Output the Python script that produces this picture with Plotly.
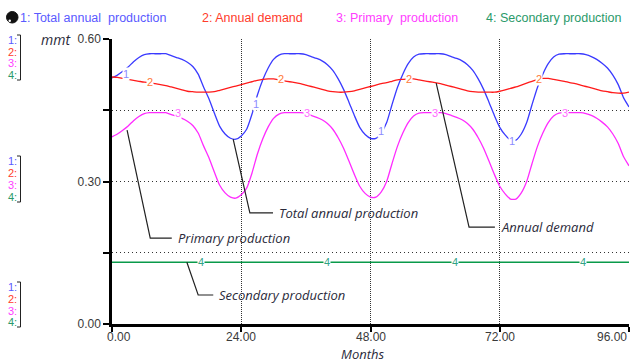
import plotly.graph_objects as go

# ---------------- data ----------------
months = list(range(97))

total_production = [
    0.518, 0.524, 0.532, 0.541, 0.552, 0.561, 0.567, 0.569, 0.569, 0.569,
    0.569, 0.565, 0.561, 0.557, 0.551, 0.542, 0.526, 0.499, 0.474, 0.444,
    0.416, 0.400, 0.391, 0.389, 0.396, 0.410, 0.442, 0.482, 0.514, 0.539,
    0.557, 0.566, 0.569, 0.569, 0.569, 0.569, 0.567, 0.563, 0.559, 0.554,
    0.546, 0.534, 0.516, 0.494, 0.467, 0.439, 0.414, 0.399, 0.391, 0.391,
    0.402, 0.424, 0.462, 0.498, 0.526, 0.548, 0.562, 0.568, 0.569, 0.569,
    0.569, 0.569, 0.567, 0.563, 0.559, 0.554, 0.546, 0.534, 0.516, 0.494,
    0.467, 0.439, 0.414, 0.398, 0.387, 0.387, 0.400, 0.424, 0.462, 0.498,
    0.526, 0.548, 0.562, 0.568, 0.569, 0.569, 0.569, 0.569, 0.567, 0.563,
    0.557, 0.549, 0.539, 0.524, 0.504, 0.476, 0.457,
]

annual_demand = [
    0.520, 0.519, 0.517, 0.515, 0.513, 0.511, 0.509, 0.508, 0.506, 0.504,
    0.502, 0.499, 0.496, 0.493, 0.490, 0.489, 0.488, 0.488, 0.488, 0.489,
    0.492, 0.495, 0.498, 0.501, 0.504, 0.507, 0.510, 0.513, 0.515, 0.516,
    0.516, 0.514, 0.512, 0.510, 0.508, 0.506, 0.503, 0.500, 0.497, 0.494,
    0.491, 0.489, 0.488, 0.488, 0.489, 0.491, 0.494, 0.497, 0.500, 0.503,
    0.506, 0.508, 0.511, 0.514, 0.515, 0.516, 0.516, 0.514, 0.512, 0.510,
    0.508, 0.506, 0.503, 0.500, 0.497, 0.494, 0.491, 0.489, 0.488, 0.488,
    0.488, 0.488, 0.490, 0.493, 0.496, 0.499, 0.503, 0.507, 0.511, 0.515,
    0.517, 0.517, 0.515, 0.513, 0.511, 0.508, 0.506, 0.503, 0.500, 0.497,
    0.494, 0.491, 0.489, 0.487, 0.486, 0.486, 0.488,
]

primary_production = [
    0.394, 0.400, 0.408, 0.417, 0.428, 0.437, 0.443, 0.445, 0.445, 0.445,
    0.445, 0.441, 0.437, 0.433, 0.427, 0.418, 0.402, 0.375, 0.350, 0.320,
    0.292, 0.276, 0.267, 0.265, 0.272, 0.286, 0.318, 0.358, 0.390, 0.415,
    0.433, 0.442, 0.445, 0.445, 0.445, 0.445, 0.443, 0.439, 0.435, 0.430,
    0.422, 0.410, 0.392, 0.370, 0.343, 0.315, 0.290, 0.275, 0.267, 0.267,
    0.278, 0.300, 0.338, 0.374, 0.402, 0.424, 0.438, 0.444, 0.445, 0.445,
    0.445, 0.445, 0.443, 0.439, 0.435, 0.430, 0.422, 0.410, 0.392, 0.370,
    0.343, 0.315, 0.290, 0.274, 0.263, 0.263, 0.276, 0.300, 0.338, 0.374,
    0.402, 0.424, 0.438, 0.444, 0.445, 0.445, 0.445, 0.445, 0.443, 0.439,
    0.433, 0.425, 0.415, 0.400, 0.380, 0.352, 0.333,
]

secondary_production = [0.13] * len(months)

x_ticks = [0, 24, 48, 72, 96]
x_tick_text = ["0.00", "24.00", "48.00", "72.00", "96.00"]
y_ticks = [0.0, 0.15, 0.30, 0.45, 0.60]
y_tick_text = ["0.00", "", "0.30", "", "0.60"]

legend_texts = ["1: Total annual\u00a0 production", "2: Annual demand",
                "3: Primary\u00a0 production", "4: Secondary production"]

# curve-number label positions (month, value)
label_1 = [(2.6, 0.526), (26.7, 0.463), (50.0, 0.406), (74.3, 0.385)]
label_2 = [(7.1, 0.509), (31.4, 0.516), (55.2, 0.516), (79.3, 0.516)]
label_3 = [(12.3, 0.444), (36.2, 0.444), (60.0, 0.444), (84.1, 0.444)]
label_4 = [(16.5, 0.130), (39.9, 0.130), (63.7, 0.130), (87.5, 0.130)]

# callouts: (text, start point on curve, bend point, end of leader)
callouts = [
    ("Total annual production", (22.5, 0.389), (25.6, 0.234), (29.9, 0.234)),
    ("Primary production", (2.8, 0.408), (7.1, 0.181), (11.1, 0.181)),
    ("Secondary production", (13.9, 0.130), (16.0, 0.061), (18.8, 0.061)),
    ("Annual demand", (60.2, 0.507), (66.3, 0.204), (71.1, 0.204)),
]

# ---------------- styling ----------------
W, H = 634, 363
ML, MR, MT, MB = 112, 5, 39, 39
PW, PH = W - ML - MR, H - MT - MB

def px(x):
    return (x - ML) / PW

def py(y):
    return (H - MB - y) / PH

c_blue, c_red, c_mag, c_green = "#3a3aff", "#ff1a1a", "#ff2bff", "#0a9a4a"
t_blue, t_red, t_mag, t_green = "#5a5aff", "#ff3b2b", "#ff40ff", "#2a9a6a"
l_blue, l_red, l_mag, l_green = "#8c8cff", "#ff7a3a", "#ff6aff", "#33a386"

fig = go.Figure()
for ys, col in [(total_production, c_blue), (annual_demand, c_red),
                (primary_production, c_mag), (secondary_production, c_green)]:
    fig.add_trace(go.Scatter(x=months, y=ys, mode="lines",
                             line=dict(color=col, width=1.3, shape="spline", smoothing=0.6),
                             hoverinfo="skip", showlegend=False))

annotations = []
shapes = []

# curve number labels
for labels, num, col in [(label_1, "1", l_blue), (label_2, "2", l_red),
                         (label_3, "3", l_mag), (label_4, "4", l_green)]:
    for (mx, vy) in labels:
        annotations.append(dict(x=mx, y=vy, xref="x", yref="y", text=num,
                                showarrow=False, bgcolor="white", borderpad=0,
                                font=dict(family="Liberation Sans", size=11, color=col)))

# callouts
for text, p0, p1, p2 in callouts:
    shapes.append(dict(type="path", xref="x", yref="y",
                       path=f"M {p0[0]},{p0[1]} L {p1[0]},{p1[1]} L {p2[0]},{p2[1]}",
                       line=dict(color="#222222", width=1.2)))
    annotations.append(dict(x=p2[0] + 0.7, y=p2[1], xref="x", yref="y", text=f"<i>{text}</i>",
                            showarrow=False, xanchor="left", yanchor="middle",
                            font=dict(family="Open Sans", size=13, color="#2a2a3a")))

# top legend texts
leg_x = [18, 200, 334, 484]
for txt, lx, col in zip(legend_texts, leg_x, [t_blue, t_red, t_mag, t_green]):
    annotations.append(dict(x=px(lx), y=py(18), xref="paper", yref="paper", text=txt,
                            showarrow=False, xanchor="left", yanchor="middle",
                            font=dict(family="Liberation Sans", size=12.5, color=col)))

# left scale indicators
groups = [[40, 52, 63, 75], [161, 173, 185, 197], [287, 299, 311, 322]]
for g in groups:
    for yy, num, col in zip(g, ["1:", "2:", "3:", "4:"], [t_blue, t_red, t_mag, t_green]):
        annotations.append(dict(x=px(19), y=py(yy), xref="paper", yref="paper", text=num,
                                showarrow=False, xanchor="right", yanchor="middle",
                                font=dict(family="Liberation Sans", size=11, color=col)))
    top, bot = g[0] - 5, g[-1] + 5
    shapes.append(dict(type="path", xref="paper", yref="paper",
                       path=f"M {px(17)},{py(top)} L {px(20.5)},{py(top)} L {px(20.5)},{py(bot)} L {px(17)},{py(bot)}",
                       line=dict(color="#222222", width=1)))

# x tick labels (end labels are pulled inward like the reference)
tick_font = dict(family="Liberation Sans", size=12, color="#3a3a3a")
tick_px = [119, 241, 371, 500, 612]
for txt, tx in zip(x_tick_text, tick_px):
    annotations.append(dict(x=px(tx), y=py(337), xref="paper", yref="paper", text=txt,
                            showarrow=False, xanchor="center", yanchor="middle", font=tick_font))

# units label
annotations.append(dict(x=px(56), y=py(39), xref="paper", yref="paper", text="<i>mmt</i>",
                        showarrow=False, xanchor="center", yanchor="middle",
                        font=dict(family="Open Sans", size=14, color="#2a2a3a")))
# x axis title
annotations.append(dict(x=px(362), y=py(354), xref="paper", yref="paper", text="<i>Months</i>",
                        showarrow=False, xanchor="center", yanchor="middle",
                        font=dict(family="Open Sans", size=13, color="#2a2a3a")))

# top-left icon
shapes.append(dict(type="circle", xref="paper", yref="paper",
                   x0=px(6.5), x1=px(18), y0=py(23), y1=py(11.5),
                   fillcolor="#111111", line=dict(color="#111111", width=1)))
shapes.append(dict(type="circle", xref="paper", yref="paper",
                   x0=px(8.5), x1=px(11), y0=py(22), y1=py(19.5),
                   fillcolor="white", line=dict(width=0)))

fig.update_layout(
    width=W, height=H,
    margin=dict(l=ML, r=MR, t=MT, b=MB),
    paper_bgcolor="white", plot_bgcolor="white",
    annotations=annotations, shapes=shapes,
    xaxis=dict(range=[0, 96], tickvals=x_ticks, showticklabels=False,
               showline=True, linecolor="black", linewidth=2.5,
               ticks="outside", ticklen=5, tickwidth=2, tickcolor="black",
               showgrid=True, gridcolor="#333333", gridwidth=1, griddash="1px,1px",
               zeroline=False),
    yaxis=dict(range=[0, 0.6], tickvals=y_ticks, ticktext=y_tick_text,
               showline=True, linecolor="black", linewidth=2.5,
               ticks="outside", ticklen=6, tickwidth=2, tickcolor="black",
               showgrid=True, gridcolor="#333333", gridwidth=1, griddash="1px,3px",
               zeroline=False, tickfont=tick_font),
)

fig.write_html("out.html")
